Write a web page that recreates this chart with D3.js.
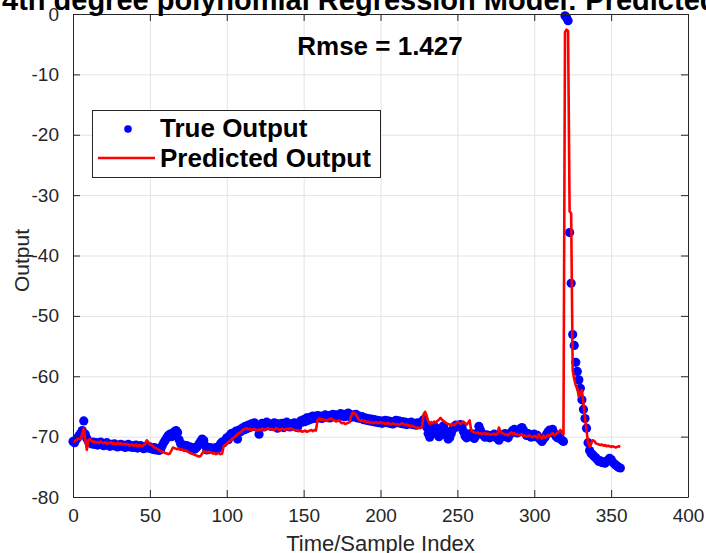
<!DOCTYPE html>
<html>
<head>
<meta charset="utf-8">
<script src="https://cdn.jsdelivr.net/npm/d3@7"></script>
<style>
  body { margin: 0; background: #fff; }
  #chart svg { display: block; font-family: "Liberation Sans", Arial, sans-serif; }
  .grid line { stroke: #e3e3e3; stroke-width: 1; }
  .grid path { stroke: none; }
  .tick text { fill: #262626; font-size: 19px; }
</style>
</head>
<body>
<div id="chart"></div>
<script>
// tick values
var xTicks = [0, 50, 100, 150, 200, 250, 300, 350, 400];
var yTicks = [0, -10, -20, -30, -40, -50, -60, -70, -80];

// blue dots: true output for each sample index
var trueOutput = [
  -70.8,-71.0,-70.5,-70.2,-69.8,-69.5,-69.0,-67.4,-69.6,-70.3,
  -70.8,-71.0,-71.2,-70.9,-71.3,-71.0,-71.4,-71.2,-70.9,-71.3,
  -71.5,-71.2,-71.0,-71.4,-71.6,-71.3,-71.5,-71.2,-71.4,-71.7,
  -71.5,-71.3,-71.6,-71.4,-71.8,-71.5,-71.3,-71.7,-71.5,-71.8,
  -71.6,-71.4,-71.9,-71.7,-71.5,-71.8,-72.0,-71.6,-71.8,-71.9,
  -71.7,-72.0,-72.1,-71.8,-72.2,-72.0,-72.3,-72.1,-71.5,-71.0,
  -70.6,-70.2,-69.8,-69.6,-70.0,-69.4,-69.2,-69.0,-69.3,-70.5,
  -71.2,-71.6,-71.4,-71.8,-71.5,-71.9,-71.7,-72.0,-71.8,-72.1,
  -71.9,-71.6,-71.2,-70.8,-70.4,-70.6,-71.5,-72.2,-72.0,-71.8,
  -72.1,-71.9,-72.2,-71.8,-72.0,-71.6,-71.2,-70.9,-71.0,-70.6,
  -70.2,-70.5,-69.8,-69.5,-69.4,-69.8,-69.1,-70.4,-68.9,-69.2,
  -68.6,-68.9,-68.3,-68.7,-68.1,-68.5,-67.9,-68.3,-67.7,-68.2,
  -68.5,-69.6,-68.1,-67.8,-68.4,-68.0,-67.6,-68.2,-67.9,-68.3,
  -68.0,-67.7,-68.3,-68.6,-67.9,-68.2,-67.8,-68.5,-68.1,-67.6,
  -68.0,-68.4,-67.9,-68.2,-67.7,-68.1,-68.5,-67.8,-67.4,-67.6,
  -67.2,-67.5,-66.9,-67.3,-66.8,-67.1,-66.6,-67.0,-66.8,-66.5,
  -66.9,-66.6,-67.0,-66.7,-66.4,-66.8,-66.5,-66.9,-66.6,-66.3,
  -66.7,-66.4,-66.8,-66.5,-66.2,-66.6,-66.3,-66.7,-66.4,-66.1,
  -66.5,-66.8,-66.4,-66.7,-66.3,-66.9,-66.6,-67.0,-66.7,-67.2,
  -66.9,-67.3,-67.0,-67.4,-67.1,-67.5,-67.2,-67.6,-67.3,-67.7,
  -67.4,-67.8,-67.5,-67.3,-67.7,-67.4,-67.8,-67.5,-67.9,-67.6,
  -67.3,-67.7,-67.4,-67.8,-67.5,-67.9,-67.6,-68.0,-67.7,-67.9,
  -67.6,-68.0,-67.8,-68.1,-67.7,-68.0,-67.8,-67.5,-67.2,-67.6,
  -68.4,-69.5,-70.1,-69.2,-68.6,-68.3,-68.8,-69.6,-70.0,-69.3,
  -68.5,-68.2,-68.9,-69.8,-70.4,-70.2,-69.5,-68.8,-68.3,-68.1,
  -68.4,-68.2,-68.0,-68.5,-69.2,-69.9,-70.2,-69.6,-70.0,-69.5,
  -69.8,-70.3,-69.9,-69.4,-68.3,-68.9,-69.5,-69.8,-70.1,-69.7,
  -69.9,-70.2,-69.8,-70.0,-69.6,-69.9,-70.3,-70.6,-70.1,-69.8,
  -70.0,-69.5,-69.8,-70.2,-69.7,-69.3,-69.0,-68.8,-69.1,-69.4,
  -69.0,-68.7,-68.5,-68.9,-69.4,-69.8,-69.5,-69.9,-70.1,-69.7,
  -69.6,-70.0,-69.8,-70.2,-70.5,-70.8,-70.4,-70.1,-69.6,-69.2,
  -68.9,-69.3,-68.8,-69.5,-69.9,-70.2,-69.8,-70.3,-70.6,-70.8,
  -0.3,-0.6,-1.1,-36.2,-44.6,-53.1,-54.9,-57.7,-59.2,-60.6,
  -62.0,-63.9,-65.5,-67.0,-68.6,-71.0,-72.3,-72.8,-73.0,-73.3,
  -73.5,-73.8,-74.1,-74.0,-74.3,-74.2,-74.4,-74.1,-73.9,-73.6,
  -73.8,-74.2,-74.5,-74.7,-74.9,-75.1,-75.2
];

// red line: predicted output for each sample index
var predictedOutput = [
  -71.0,-70.8,-70.6,-70.4,-70.3,-70.4,-69.5,-68.7,-70.5,-72.2,
  -70.6,-70.4,-70.7,-70.9,-70.8,-71.0,-70.9,-71.1,-70.8,-71.0,
  -71.1,-70.9,-71.2,-71.0,-71.1,-70.9,-71.2,-71.1,-71.3,-71.0,
  -71.2,-71.1,-71.3,-71.2,-71.4,-71.2,-71.3,-71.5,-71.3,-71.4,
  -71.5,-71.3,-71.6,-71.4,-71.5,-71.6,-71.4,-71.2,-70.6,-70.9,
  -71.3,-71.4,-71.6,-71.8,-71.9,-72.1,-72.2,-72.4,-72.5,-72.6,
  -72.7,-72.8,-72.9,-72.8,-72.3,-71.8,-71.9,-72.0,-72.1,-72.0,
  -72.2,-72.1,-72.3,-72.2,-72.4,-72.5,-72.7,-72.8,-72.9,-73.0,
  -73.1,-73.2,-73.3,-73.2,-72.8,-72.4,-72.5,-72.6,-72.5,-72.7,
  -72.6,-72.8,-72.7,-72.9,-72.8,-72.7,-72.9,-72.8,-71.6,-71.4,
  -71.2,-70.9,-70.8,-70.5,-70.3,-70.1,-69.8,-69.6,-69.4,-69.3,
  -69.0,-68.8,-68.7,-68.6,-68.8,-68.7,-68.9,-68.8,-68.7,-68.9,
  -69.0,-68.8,-68.9,-68.7,-68.8,-68.9,-68.7,-68.6,-68.8,-68.7,
  -68.9,-68.8,-68.6,-68.7,-68.9,-68.8,-68.7,-68.8,-68.9,-68.7,
  -68.8,-68.6,-68.7,-68.8,-68.9,-69.0,-68.9,-69.1,-69.0,-69.2,
  -69.1,-69.0,-69.2,-69.1,-69.0,-68.9,-69.1,-68.9,-69.0,-67.3,
  -67.0,-67.2,-67.1,-67.3,-67.2,-67.4,-67.2,-67.1,-67.0,-67.2,
  -67.3,-67.5,-67.4,-67.3,-67.6,-67.8,-67.7,-67.9,-67.8,-67.7,
  -67.6,-66.5,-66.0,-66.1,-66.3,-66.8,-67.2,-67.4,-67.3,-67.5,
  -67.4,-67.6,-67.5,-67.7,-67.6,-67.8,-67.7,-67.6,-67.8,-67.7,
  -67.6,-67.8,-67.7,-67.9,-67.8,-67.7,-67.9,-68.0,-67.8,-67.9,
  -68.0,-67.9,-68.1,-68.0,-67.8,-67.9,-68.1,-68.0,-68.2,-68.1,
  -68.3,-68.2,-68.4,-68.5,-68.6,-68.5,-68.6,-68.4,-66.3,-65.9,
  -66.5,-67.5,-67.9,-67.6,-67.8,-67.5,-67.7,-67.4,-67.2,-66.9,
  -67.2,-67.4,-67.6,-67.8,-67.9,-68.0,-68.2,-67.9,-68.1,-67.8,
  -67.6,-67.7,-67.9,-67.7,-67.5,-67.8,-68.0,-67.7,-67.3,-69.0,
  -69.2,-69.3,-69.4,-69.3,-69.5,-69.4,-69.6,-69.5,-69.4,-69.6,
  -69.5,-69.6,-69.7,-69.6,-69.5,-69.7,-69.6,-68.5,-69.1,-69.4,
  -69.5,-69.7,-69.6,-69.8,-69.5,-69.3,-69.6,-69.4,-69.7,-69.6,
  -69.8,-69.7,-69.6,-69.9,-69.8,-70.0,-69.9,-69.8,-70.0,-70.1,
  -69.9,-70.0,-70.2,-69.6,-70.1,-70.3,-69.8,-70.2,-70.0,-69.7,
  -69.9,-69.6,-69.4,-69.8,-69.6,-69.4,-69.2,-68.9,-69.3,-69.6,
  -3.0,-2.6,-2.8,-32.7,-33.0,-59.0,-60.5,-61.5,-62.0,-63.4,
  -62.8,-62.3,-64.5,-66.8,-69.0,-71.0,-71.7,-71.0,-70.6,-70.7,
  -71.1,-71.2,-71.3,-71.4,-71.3,-71.5,-71.4,-71.6,-71.5,-71.6,
  -71.7,-71.6,-71.7,-71.8,-71.7,-71.6,-71.7
];

var rmseText = "Rmse = 1.427";
var titleText = "4th degree polynomial Regression Model: Predicted Output";
var legendKeys = ["True Output", "Predicted Output"];

function drawChart(){
    var w = 706;
    var h = 553;
    var left = 73, right = 688, top = 14, bottom = 497;
    var ink = "#262626";

    var xScale = d3.scaleLinear().domain([0, 400]).range([left, right]);
    var yScale = d3.scaleLinear().domain([-80, 0]).range([bottom, top]);
    // plain hyphen for negative labels, like the original
    var fmt = function(d){ return String(d); };

    var svg = d3.select("#chart")
                .append("svg")
                .attr("width", w)
                .attr("height", h);

    // gridlines
    svg.append("g")
        .attr("class", "grid")
        .attr("transform", "translate(0," + bottom + ")")
        .call(d3.axisBottom(xScale).tickValues(xTicks).tickSize(-(bottom - top)).tickFormat(""));
    svg.append("g")
        .attr("class", "grid")
        .attr("transform", "translate(" + left + ",0)")
        .call(d3.axisLeft(yScale).tickValues(yTicks).tickSize(-(right - left)).tickFormat(""));

    var samples = trueOutput.map(function(v, i){ return {idx: i, actual: v, pred: predictedOutput[i]}; });

    // true output dots
    svg.selectAll(".dot")
        .data(samples)
        .enter()
        .append("circle")
        .attr("class", "dot")
        .attr("cx", function(d){ return xScale(d.idx); })
        .attr("cy", function(d){ return yScale(d.actual); })
        .attr("r", 4.6)
        .style("fill", "#0000ff");

    // predicted line
    var line = d3.line()
        .x(function(d){ return xScale(d.idx); })
        .y(function(d){ return yScale(d.pred); });
    svg.append("path")
        .datum(samples)
        .attr("d", line)
        .attr("fill", "none")
        .attr("stroke", "#ff0000")
        .attr("stroke-width", 2.6)
        .attr("stroke-linejoin", "round");

    // axes (ticks pointing inward, box all round)
    var xAxis = d3.axisBottom(xScale).tickValues(xTicks).tickFormat(fmt).tickSizeInner(-7).tickSizeOuter(0).tickPadding(12);
    var yAxis = d3.axisLeft(yScale).tickValues(yTicks).tickFormat(fmt).tickSizeInner(-7).tickSizeOuter(0).tickPadding(14);
    var gx = svg.append("g").attr("transform", "translate(0," + bottom + ")").call(xAxis);
    var gy = svg.append("g").attr("transform", "translate(" + left + ",0)").call(yAxis);
    svg.append("g").attr("transform", "translate(0," + top + ")")
        .call(d3.axisTop(xScale).tickValues(xTicks).tickSizeInner(-7).tickSizeOuter(0).tickFormat(""));
    svg.append("g").attr("transform", "translate(" + right + ",0)")
        .call(d3.axisRight(yScale).tickValues(yTicks).tickSizeInner(-7).tickSizeOuter(0).tickFormat(""));
    svg.selectAll(".domain, .tick line").attr("stroke", ink);
    svg.selectAll(".grid .tick line").attr("stroke", "#e3e3e3");
    gx.selectAll("text").attr("font-family", "Liberation Sans, Arial, sans-serif");
    gy.selectAll("text").attr("font-family", "Liberation Sans, Arial, sans-serif");

    // axis labels
    svg.append("text")
        .attr("x", (left + right) / 2)
        .attr("y", 551)
        .attr("text-anchor", "middle")
        .style("font-size", "22px")
        .style("fill", ink)
        .text("Time/Sample Index");
    svg.append("text")
        .attr("transform", "translate(29," + ((top + bottom) / 2 + 5) + ") rotate(-90)")
        .attr("text-anchor", "middle")
        .style("font-size", "21px")
        .style("fill", ink)
        .text("Output");

    // title (cut off by the window, as in the original)
    svg.append("text")
        .attr("x", 2)
        .attr("y", 10)
        .style("font-size", "29px")
        .style("font-weight", "bold")
        .style("fill", "#000")
        .text(titleText);

    // rmse annotation
    svg.append("text")
        .attr("x", 380)
        .attr("y", 55)
        .attr("text-anchor", "middle")
        .style("font-size", "26px")
        .style("font-weight", "bold")
        .style("fill", "#000")
        .text(rmseText);

    // legend
    var lg = svg.append("g");
    lg.append("rect")
        .attr("x", 92.5).attr("y", 110.5)
        .attr("width", 288).attr("height", 67)
        .attr("fill", "#fff")
        .attr("stroke", ink)
        .attr("stroke-width", 1);
    lg.append("circle")
        .attr("cx", 128).attr("cy", 129).attr("r", 3.8)
        .style("fill", "#0000ff");
    lg.append("line")
        .attr("x1", 98).attr("x2", 155)
        .attr("y1", 158).attr("y2", 158)
        .attr("stroke", "#ff0000")
        .attr("stroke-width", 2.6);
    lg.selectAll(".legtext")
        .data(legendKeys)
        .enter()
        .append("text")
        .attr("class", "legtext")
        .attr("x", 160)
        .attr("y", function(d, i){ return 137 + i * 30; })
        .style("font-size", "26px")
        .style("font-weight", "bold")
        .style("fill", "#000")
        .text(function(d){ return d; });
}

drawChart();
</script>
</body>
</html>
